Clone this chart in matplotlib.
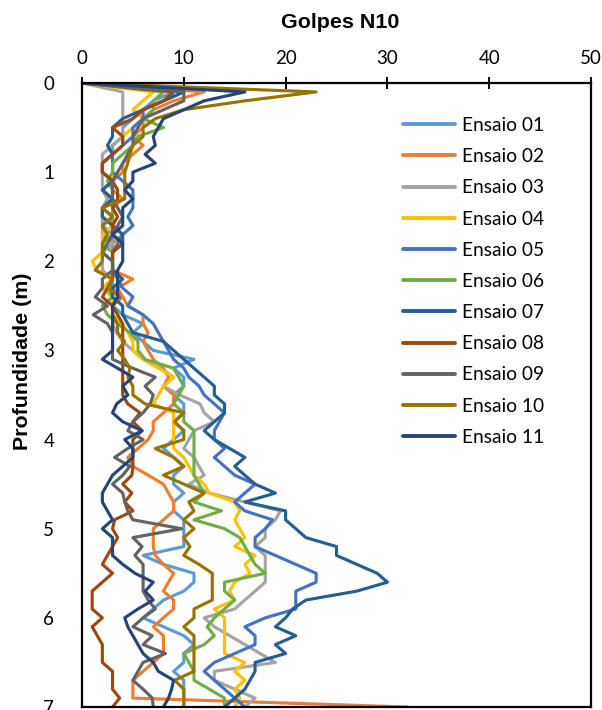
import matplotlib
matplotlib.use("Agg")
import matplotlib.pyplot as plt

depth = [i / 10 for i in range(71)]

labels = ["Ensaio 01", "Ensaio 02", "Ensaio 03", "Ensaio 04", "Ensaio 05", "Ensaio 06",
          "Ensaio 07", "Ensaio 08", "Ensaio 09", "Ensaio 10", "Ensaio 11"]
colors = ["#5B9BD5", "#ED7D31", "#A5A5A5", "#FFC000", "#4472C4", "#70AD47",
          "#255E91", "#9E480E", "#636363", "#997300", "#264478"]

e01 = [0, 9, 7, 6, 5, 4, 4, 3, 3, 2, 2,
       3, 2, 3, 2, 3, 2, 3, 3, 2, 3,
       3, 3, 3, 4, 3, 4, 6, 5, 6, 7,
       11, 9, 10, 10, 9, 10, 10, 9, 10, 9,
       8, 9, 10, 9, 9, 10, 9, 9, 10, 10,
       10, 10, 6, 8, 11, 11, 10, 8, 7, 6,
       8, 10, 11, 10, 10, 9, 10, 10, 10, 10]
e02 = [0, 12, 9, 7, 6, 6, 5, 6, 5, 4, 4,
       3, 3, 4, 3, 3, 3, 4, 3, 3, 3,
       3, 5, 3.5, 4, 4.5, 6, 6, 6.5, 6, 6.5,
       7, 8, 8.5, 8, 9, 9, 8, 7, 7, 6.5,
       5.5, 4.5, 5, 6.5, 8, 8.5, 9, 9, 8, 7,
       7, 7, 7.2, 8, 9, 8.5, 8, 9, 9, 8,
       7, 8, 8, 8, 7, 6, 5, 5, 5, 32]
e03 = [0, 4, 4, 4, 4, 4, 4, 3, 2, 2, 2,
       2, 2, 2.5, 2, 2, 2, 2, 3, 2, 2,
       2, 3, 2, 3, 3, 3, 3, 3.4, 4, 5,
       6, 7.7, 9, 8, 9.6, 11.6, 12, 13, 11, 10.5,
       10, 11, 11.5, 12, 10.5, 12.5, 16, 19.5, 19, 18,
       18, 17, 18, 18, 18, 18, 17, 16, 15, 12,
       13, 14.5, 16, 17.5, 19, 13, 13, 15, 17, 16]
e04 = [0, 7, 6, 5, 6, 5, 4, 4, 3, 3, 3,
       3, 2, 3, 2, 2, 3, 2, 2, 2, 1,
       1.5, 3, 2, 3, 3, 3, 4, 4.5, 5, 5,
       6, 7.5, 9, 8, 7.5, 7, 9, 9, 9, 9,
       9, 10, 10.5, 11, 12, 12.5, 15, 15.5, 15, 15.5,
       16, 15, 17, 16, 16.5, 15, 14.5, 15, 13, 14,
       14, 14, 14, 14, 16, 15, 16, 15, 15.5, 15]
e05 = [0, 10, 8, 6, 6, 5, 5, 4, 3, 3, 3,
       4, 5, 5, 5, 4.5, 5, 4, 3.5, 3, 3,
       3, 3.5, 4, 5, 4.5, 6, 7, 7.5, 8, 8.5,
       9, 10, 10.5, 11.5, 12, 13, 14, 13.5, 13, 13,
       14, 13, 14, 15, 17, 16, 15, 16, 18.7, 18,
       17, 17, 19, 21, 23, 23, 21, 21, 21, 18,
       16, 17, 17, 15, 13, 12, 13, 14, 15, 16]
e06 = [0, 8, 7, 7, 6, 8, 5.5, 5, 4, 3, 3,
       2.5, 3, 3, 3, 3, 3, 3, 2, 3, 3,
       3, 3, 2.5, 3, 2, 2.5, 3.5, 4.7, 5.5, 5.5,
       6.2, 9, 9.5, 10, 9.5, 9, 10, 10, 11, 11,
       11, 11, 11, 11, 11.5, 12, 11, 13.7, 11, 14,
       15.5, 16, 16.5, 17, 18, 14, 14, 15, 14, 13,
       12.3, 13, 12, 10, 10.5, 11, 11, 12.5, 14, 14]
e07 = [0, 10, 8, 6, 4, 3, 3, 2.5, 3, 2, 2,
       3, 2, 3, 2, 2, 3, 4, 4, 3, 3,
       3, 4, 3, 3, 4, 4, 4.5, 5, 8, 9,
       10, 11, 12, 13, 13, 14, 14, 13, 12, 13,
       14.5, 16, 15, 16, 17, 19, 16, 20, 20, 21,
       22, 25, 25, 27, 29, 30, 27, 22, 20.7, 20,
       19, 21, 19, 20, 17, 17, 16.5, 16, 15, 14]
e08 = [0, 9, 8, 6, 5, 3, 4, 4, 3, 2, 2,
       3, 3.5, 3.5, 3, 3.5, 3, 3, 4, 3, 3,
       3, 3, 2.5, 2, 3, 3.5, 4, 4, 4, 4,
       4, 4, 4, 4, 4, 4.5, 5.7, 5, 5.9, 5,
       5, 5, 5, 4.9, 4, 4.9, 4.2, 5, 3.2, 3,
       3.5, 3, 2.5, 2, 3, 2, 1, 1, 1, 2,
       1, 1.5, 2, 2, 2, 3, 3, 3, 3.7, 3]
e09 = [0, 10, 10, 8, 6, 5.5, 5, 5, 4.5, 4, 3.5,
       3, 3, 3, 3.5, 4, 3.5, 3, 2.5, 2, 3,
       3, 2, 2, 1.3, 2.5, 1.1, 2.5, 3, 3, 3,
       3, 5, 7.2, 6.2, 7, 6.7, 6, 5, 4.5, 6,
       4.5, 3.2, 4.7, 4, 3, 4, 4.2, 4.5, 5, 9.8,
       5, 5.9, 5.2, 6, 6, 6, 6, 6.5, 7.2, 6,
       5, 6.9, 6, 8.2, 6, 5.5, 5, 6, 6.9, 7]
e10 = [0, 23, 16, 10, 7.2, 6, 6, 5, 4.7, 4.5, 4.2,
       4.2, 4.2, 4.2, 2, 3, 2, 2.5, 2, 2, 2,
       1.3, 3, 2.6, 3.7, 3, 3, 3.5, 3.5, 4.2, 3.5,
       4.2, 4.7, 4.5, 5, 5, 6.2, 10, 9.1, 10, 10,
       7.2, 9, 10, 8, 10, 12, 10.5, 11, 10, 11,
       10, 10.6, 10, 11.5, 12.8, 12.8, 12.8, 12.8, 11, 11,
       10, 11, 11, 11, 11, 11, 9.1, 10, 10, 10]
e11 = [0, 16, 12, 10, 8, 7.5, 7, 7.2, 6.2, 7.2, 5,
       5, 4.2, 5, 4, 4, 4, 3, 4, 4, 4,
       3.5, 3.5, 3.5, 3.5, 3, 3, 3, 3, 3, 3,
       2, 3.5, 5, 4, 4.5, 3.4, 3, 4, 5.9, 4.2,
       5, 5, 4, 3, 2.5, 2, 2, 2.5, 3, 2,
       3, 3, 3, 4, 5.2, 7, 6.2, 7, 5.5, 4.2,
       4.5, 5, 5.5, 6, 7, 7.5, 9, 8.8, 8.5, 8]

series = [e01, e02, e03, e04, e05, e06, e07, e08, e09, e10, e11]
x_ticks = [0, 10, 20, 30, 40, 50]
y_ticks = [0, 1, 2, 3, 4, 5, 6, 7]

W, H = 602, 710
fig = plt.figure(figsize=(W / 100, H / 100), dpi=100)
ax = fig.add_axes([82 / W, 1 - 707 / H, (591 - 82) / W, (707 - 83) / H])

for vals, lab, col in zip(series, labels, colors):
    ax.plot(vals, depth, color=col, lw=2.25, label=lab, solid_joinstyle="round",
            solid_capstyle="round")

ax.set_xlim(0, 50)
ax.set_ylim(7, 0)
ax.xaxis.tick_top()
ax.set_xticks(x_ticks)
ax.set_yticks(y_ticks)
for lbl in ax.get_xticklabels() + ax.get_yticklabels():
    lbl.set_family("Lato")
ax.tick_params(axis="x", direction="inout", length=9, width=1.4, pad=7,
               labelsize=13.5, colors="black")
ax.tick_params(axis="y", length=0, pad=20, labelsize=13.5)
for sp in ax.spines.values():
    sp.set_linewidth(1.6)
    sp.set_color("black")

fig.text(340 / W, 1 - 22 / H, "Golpes N10", ha="center", va="center",
         fontsize=15.4, fontweight="bold", family="Liberation Sans")
fig.text(22 / W, 1 - 361 / H, "Profundidade (m)", ha="center", va="center",
         rotation=90, fontsize=15.4, fontweight="bold", family="Liberation Sans")

leg = ax.legend(loc="upper left", bbox_to_anchor=(403 / W, 1 - 117 / H),
                bbox_transform=fig.transFigure, frameon=False, borderpad=0,
                borderaxespad=0, handlelength=2.7, handletextpad=0.36,
                labelspacing=0.74, prop={"family": "Lato", "size": 13.8})
for h in leg.get_lines():
    h.set_linewidth(2.8)

fig.savefig("out.png", dpi=100)
